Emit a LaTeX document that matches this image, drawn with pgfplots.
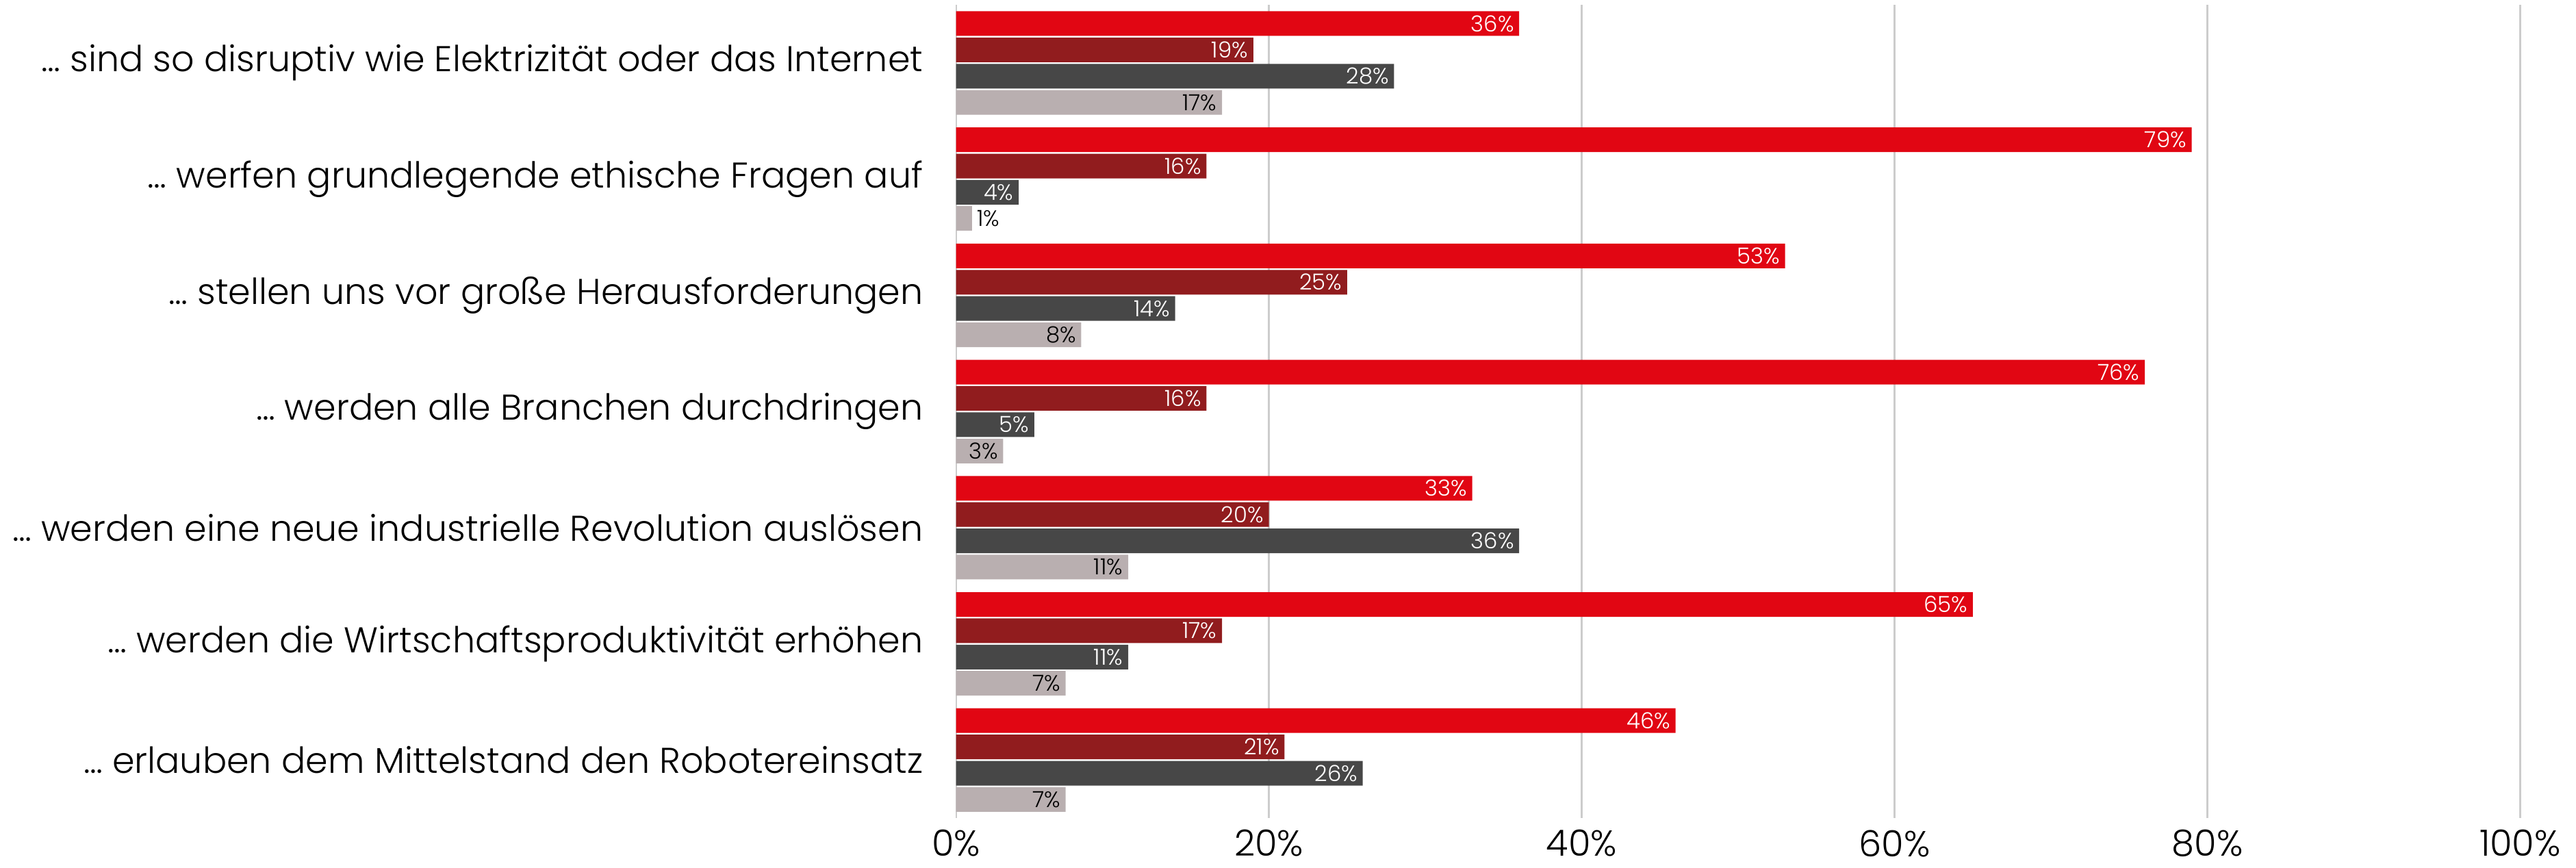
\documentclass[border=0pt]{standalone}
\usepackage{fontspec}
\setmainfont{Poppins}
\newfontfamily\lightfont{Poppins Light}
\usepackage{pgfplots}
\pgfplotsset{compat=1.18}
\definecolor{cA}{HTML}{E10613}
\definecolor{cB}{HTML}{911C1E}
\definecolor{cC}{HTML}{474747}
\definecolor{cD}{HTML}{B9AFB0}
\definecolor{gridc}{HTML}{CCCCCC}

\begin{document}
\begin{tikzpicture}
\useasboundingbox (-582pt,-30pt) rectangle (986pt,498pt);
\begin{axis}[
  at={(0pt,0pt)}, anchor=south west,
  scale only axis, width=952pt, height=495pt,
  xbar, bar width=15pt,
  xmin=0, xmax=100, ymin=-0.5, ymax=6.5, y dir=reverse,
  /pgf/number format/assume math mode=true,
  xtick={0,20,40,60,80,100}, xticklabels={0\%,20\%,40\%,60\%,80\%,100\%},
  ytick={0,1,2,3,4,5,6},
  yticklabels={
    {\ldots{} sind so disruptiv wie Elektrizität oder das Internet},
    {\ldots{} werfen grundlegende ethische Fragen auf},
    {\ldots{} stellen uns vor große Herausforderungen},
    {\ldots{} werden alle Branchen durchdringen},
    {\ldots{} werden eine neue industrielle Revolution auslösen},
    {\ldots{} werden die Wirtschaftsproduktivität erhöhen},
    {\ldots{} erlauben dem Mittelstand den Robotereinsatz}},
  xmajorgrids, major grid style={gridc, line width=1pt},
  axis line style={draw=none}, major tick length=0pt,
  xticklabel style={font=\lightfont\fontsize{22}{26}\selectfont, anchor=north, inner sep=0pt, yshift=-7pt},
  yticklabel style={font=\lightfont\fontsize{21.8}{25}\selectfont, anchor=east, inner sep=0pt, xshift=-20pt},
  point meta=x,
  nodes near coords={\pgfmathprintnumber{\pgfplotspointmeta}\%},
  every node near coord/.append style={font=\lightfont\fontsize{13.5}{15}\selectfont, inner sep=0pt, anchor=east, xshift=-3pt},
]
\addplot[fill=cA, draw=none, bar shift=24pt, every node near coord/.append style={text=white, anchor=east}]
  coordinates {(36,0) (79,1) (53,2) (76,3) (33,4) (65,5) (46,6)};
\addplot[fill=cB, draw=none, bar shift=8pt, every node near coord/.append style={text=white, anchor=east}]
  coordinates {(19,0) (16,1) (25,2) (16,3) (20,4) (17,5) (21,6)};
\addplot[fill=cC, draw=none, bar shift=-8pt, every node near coord/.append style={text=white, anchor=east}]
  coordinates {(28,0) (4,1) (14,2) (5,3) (36,4) (11,5) (26,6)};
\addplot[fill=cD, draw=none, bar shift=-24pt, every node near coord/.append style={text=black, anchor=east}]
  coordinates {(17,0) (8,2) (3,3) (11,4) (7,5) (7,6)};
\addplot[fill=cD, draw=none, bar shift=-24pt, every node near coord/.append style={text=black, anchor=west, xshift=6pt}]
  coordinates {(1,1)};
\end{axis}
\end{tikzpicture}
\end{document}
